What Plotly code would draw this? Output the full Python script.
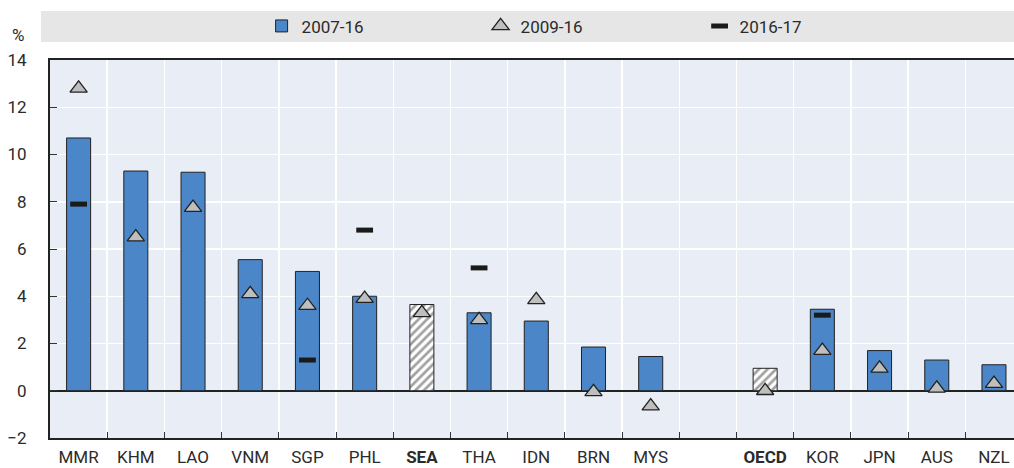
import plotly.graph_objects as go

categories = ["MMR", "KHM", "LAO", "VNM", "SGP", "PHL", "SEA", "THA", "IDN", "BRN", "MYS", " ",
              "OECD", "KOR", "JPN", "AUS", "NZL"]
tick_labels = ["MMR", "KHM", "LAO", "VNM", "SGP", "PHL", "<b>SEA</b>", "THA", "IDN", "BRN", "MYS", " ",
               "<b>OECD</b>", "KOR", "JPN", "AUS", "NZL"]
v_2007_16 = [10.7, 9.3, 9.25, 5.55, 5.05, 4.0, 3.65, 3.3, 2.95, 1.85, 1.45, None,
             0.95, 3.45, 1.7, 1.3, 1.1]
v_2009_16 = [12.8, 6.5, 7.75, 4.1, 3.6, 3.9, 3.3, 3.0, 3.85, -0.05, -0.65, None,
             0.0, 1.7, 0.95, 0.1, 0.3]
v_2016_17 = [7.9, None, None, None, 1.3, 6.8, None, 5.2, None, None, None, None,
             None, 3.2, None, None, None]
aggregates = ["SEA", "OECD"]

BLUE = "#4A86C8"
TXT = "#2B2B2B"
FONT = "Roboto, Liberation Sans, sans-serif"

bar_colors = ["white" if c in aggregates else BLUE for c in categories]
bar_patterns = ["/" if c in aggregates else "" for c in categories]

fig = go.Figure()
fig.add_trace(go.Bar(
    x=categories, y=v_2007_16, name="2007-16", width=0.42,
    marker=dict(color=bar_colors, line=dict(color="#222222", width=1),
                pattern=dict(shape=bar_patterns, fgcolor="#111111", bgcolor="white",
                             size=6, solidity=0.45)),
))
fig.add_trace(go.Scatter(
    x=categories, y=v_2009_16, name="2009-16", mode="markers",
    marker=dict(symbol="triangle-up", size=15, color="#BEBEBE",
                line=dict(color="#222222", width=1.3)),
))
fig.add_trace(go.Scatter(
    x=categories, y=v_2016_17, name="2016-17", mode="markers",
    marker=dict(symbol="line-ew", size=12, color="#1A1A1A",
                line=dict(color="#1A1A1A", width=5)),
))

fig.update_layout(
    width=1014, height=468,
    margin=dict(l=50, r=0, t=60, b=30, autoexpand=False),
    paper_bgcolor="white", plot_bgcolor="#E9EDF6",
    font=dict(family=FONT, size=17, color=TXT),
    showlegend=True,
    legend=dict(orientation="h", x=0.2195, xanchor="left", y=1.089, yanchor="middle",
                bgcolor="rgba(0,0,0,0)", entrywidth=174, entrywidthmode="pixels",
                font=dict(size=17, family=FONT, color=TXT), traceorder="normal"),
    shapes=[dict(type="rect", xref="paper", yref="paper", x0=-0.0093, x1=1.0,
                 y0=1.0476, y1=1.1296, fillcolor="#E6E6E6", line=dict(width=0),
                 layer="below")],
    annotations=[dict(text="%", xref="paper", yref="paper", x=-0.033, y=1.066,
                      showarrow=False, xanchor="center", yanchor="middle",
                      font=dict(size=17, family=FONT, color=TXT))],
)
fig.update_xaxes(
    type="category", categoryorder="array", categoryarray=categories,
    tickvals=categories, ticktext=tick_labels,
    range=[-0.5, 16.35], tickson="boundaries",
    showgrid=True, gridcolor="white", gridwidth=1.5,
    ticks="inside", ticklen=6, tickcolor="#333333", tickwidth=1,
    showline=True, linecolor="#222222", linewidth=2, mirror=True,
    ticklabelstandoff=3,
)
fig.update_yaxes(
    range=[-2, 14], tickvals=[-2, 0, 2, 4, 6, 8, 10, 12, 14],
    showgrid=True, gridcolor="white", gridwidth=1.5,
    zeroline=True, zerolinecolor="#222222", zerolinewidth=2,
    ticks="inside", ticklen=7, tickcolor="#333333", tickwidth=1,
    showline=True, linecolor="#222222", linewidth=2,
    ticklabelstandoff=18,
)

fig.write_html("out.html",
               config={"displayModeBar": False, "staticPlot": True},
               post_script="document.body.style.margin='0';"
                           "document.documentElement.style.overflow='hidden';")
